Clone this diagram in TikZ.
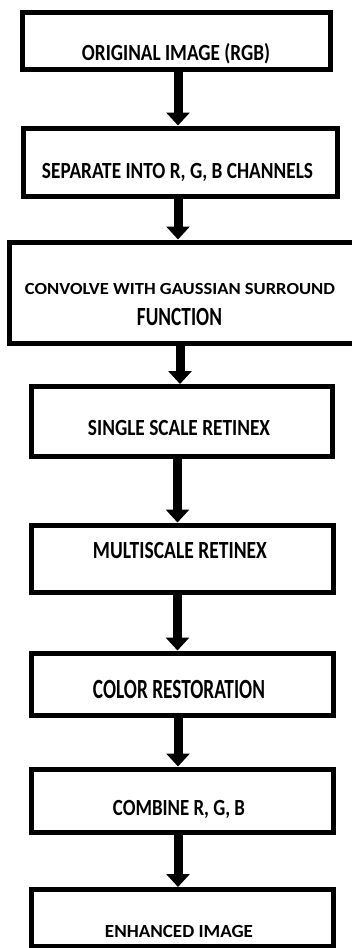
\documentclass[tikz,border=0pt]{standalone}
\usepackage{fontspec}
\setmainfont{Carlito}
\usetikzlibrary{arrows.meta}
% squeeze a caps-only label to a given width and cap height
\newcommand\capfit[3]{\resizebox{#1}{#2}{\raisebox{0pt}[\fontcharht\font`H][0pt]{#3}}}
\begin{document}
\begin{tikzpicture}[x=1pt,y=-1pt,
  stepbox/.style={draw=black,line width=5pt,fill=white,inner sep=0pt},
  lbl/.style={anchor=base,inner sep=0pt,font=\bfseries},
  flow/.style={line width=9pt,-{Triangle[width=23pt,length=13pt]}}]
\fill[white] (0,0) rectangle (351,948);
\useasboundingbox (0,0) rectangle (351,948);

% process boxes (centre, width, height of the frame line)
\node[stepbox,minimum width=308pt,minimum height=57pt]   (b1) at (176.5,41)     {};
\node[stepbox,minimum width=314pt,minimum height=68pt]   (b2) at (180.5,162)    {};
\node[stepbox,minimum width=348.5pt,minimum height=101.5pt] (b3) at (183.75,292.75) {};
\node[stepbox,minimum width=301pt,minimum height=70pt]   (b4) at (181.5,421.5)  {};
\node[stepbox,minimum width=302pt,minimum height=67pt]   (b5) at (182,558.5)    {};
\node[stepbox,minimum width=302pt,minimum height=62.5pt] (b6) at (182,684.25)   {};
\node[stepbox,minimum width=302pt,minimum height=63.5pt] (b7) at (182,800.75)   {};
\node[stepbox,minimum width=302pt,minimum height=56.5pt] (b8) at (182,917.75)   {};

% box captions
\node[lbl] (t1)  at (176,60)    {\capfit{188pt}{15pt}{ORIGINAL IMAGE (RGB)}};
\node[lbl] (t2)  at (177.5,178) {\capfit{271pt}{15pt}{SEPARATE INTO R, G, B CHANNELS}};
\node[lbl] (t3a) at (180,294)   {\capfit{310pt}{11pt}{CONVOLVE WITH GAUSSIAN SURROUND}};
\node[lbl] (t3b) at (179.5,325) {\capfit{85pt}{17pt}{FUNCTION}};
\node[lbl] (t4)  at (179,435)   {\capfit{182pt}{15pt}{SINGLE SCALE RETINEX}};
\node[lbl] (t5)  at (180,558)   {\capfit{174pt}{16pt}{MULTISCALE RETINEX}};
\node[lbl] (t6)  at (179,698)   {\capfit{172pt}{18pt}{COLOR RESTORATION}};
\node[lbl] (t7)  at (179,815)   {\capfit{132pt}{15pt}{COMBINE R, G, B}};
\node[lbl] (t8)  at (179,937)   {\capfit{148pt}{12pt}{ENHANCED IMAGE}};

% connectors
\draw[flow] (b1.south -| 178,0)   -- (b2.north -| 178,0);
\draw[flow] (b2.south -| 178,0)   -- (b3.north -| 178,0);
\draw[flow] (b3.south -| 180,0)   -- (b4.north -| 180,0);
\draw[flow] (b4.south -| 177.5,0) -- (b5.north -| 177.5,0);
\draw[flow] (b5.south -| 177.5,0) -- (b6.north -| 177.5,0);
\draw[flow] (b6.south -| 178,0)   -- (b7.north -| 178,0);
\draw[flow] (b7.south -| 178,0)   -- (b8.north -| 178,0);
\end{tikzpicture}
\end{document}
